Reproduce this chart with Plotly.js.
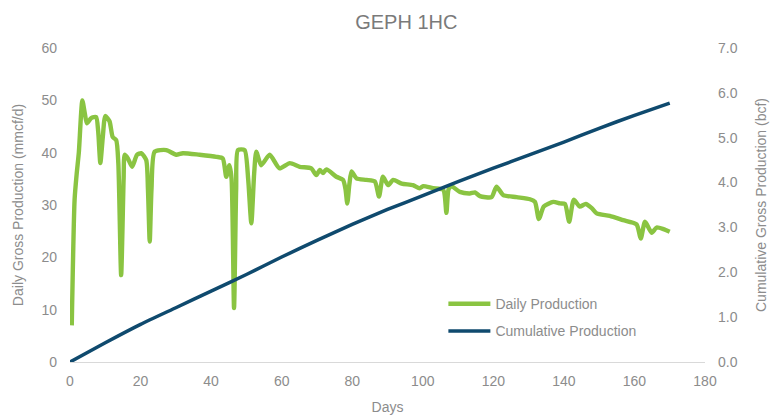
<!DOCTYPE html>
<html>
<head>
<meta charset="utf-8">
<script src="https://cdn.plot.ly/plotly-3.0.1.min.js"></script>
<style>html,body{margin:0;padding:0;background:#fff;}#chart{width:774px;height:417px;}</style>
</head>
<body>
<div id="chart"></div>
<script>
// Daily production (mmcf/d)
var dailyDays = [0.5,1.3,1.9,2.5,3.5,4.2,4.8,6,7.4,8,8.6,9.3,10,11.2,12.1,13.1,13.7,14.5,15.2,15.5,16.4,17.6,19,20.2,21.6,22.1,22.6,23.1,24,27.3,30.1,32,36.7,41.5,43.3,44.3,45.2,45.8,46.5,47.1,47.6,49.5,50.5,51.4,52.2,52.8,54.2,56.6,59.4,62.3,65.1,68.4,69.8,70.8,71.7,72.7,75.5,77.4,78.1,78.6,79.2,79.8,81.2,84,86.4,87.6,88.7,90.2,91.6,94,97.2,99.1,100.1,102.9,105.8,106.7,107.3,108.1,110.5,113.3,114.8,116.2,119.5,120.9,122.8,126.6,130.4,131.8,132.9,134.3,137,138.9,140.3,141.5,142.8,144.5,146.2,147.9,149.3,153,156.8,160.6,161.8,163,164.9,166.3,168.2,170];
var dailyValues = [7,31,36,40,50,47.5,45.6,46.6,46.8,44,38,43,47,46,43,42.4,38,16.6,35,39.6,38.9,37.3,39.6,39.9,38.6,33,23,33,40.2,40.5,39.6,39.9,39.6,39.2,38.9,35.4,37.6,35,10.3,33,40.5,40.5,35,26.5,36,40.2,37.6,39.6,37,38,37.3,37,35.7,36.7,36.1,36.8,35.4,34.8,33,30.3,34,36.4,35.1,34.8,34.5,31.6,35.4,33.8,34.8,34.1,33.8,33.2,33.6,33.2,32.9,28.5,33,33.6,32.5,32.2,32.4,31.7,31.5,33.5,31.9,31.5,31.1,30.6,27.3,29.7,30.6,30.3,30.2,26.8,31,29.7,30.2,29.4,28.4,27.9,27.1,26.3,23.6,26.8,24.7,25.7,25.4,24.9];
// Cumulative production (bcf)
var cumDays = [0,10,20,30,40,50,60,70,80,90,100,110,120,130,140,150,160,170];
var cumValues = [0,0.43,0.84,1.21,1.58,1.95,2.34,2.71,3.07,3.40,3.71,4.02,4.32,4.61,4.90,5.21,5.50,5.77];
var xTicks = [0,20,40,60,80,100,120,140,160,180];
var yLeftTicks = [0,10,20,30,40,50,60];
var yRightTicks = [0,1,2,3,4,5,6,7];

var gray = '#8c8c8c';
var traces = [
  {x: dailyDays, y: dailyValues, type: 'scatter', mode: 'lines', name: 'Daily Production', legendgroup: 'a',
   line: {color: '#8ac442', width: 4.4, shape: 'spline', smoothing: 0.6}, yaxis: 'y'},
  {x: cumDays, y: cumValues, type: 'scatter', mode: 'lines', name: 'Cumulative Production', legendgroup: 'b',
   line: {color: '#0f4a6e', width: 3.5, shape: 'spline', smoothing: 0.5}, yaxis: 'y2'}
];
var layout = {
  width: 774, height: 417,
  margin: {l: 70, r: 69, t: 48, b: 55},
  paper_bgcolor: '#fff', plot_bgcolor: '#fff',
  font: {family: 'Liberation Sans, Arial, sans-serif', color: gray, size: 14},
  title: {text: 'GEPH 1HC', font: {size: 20, color: '#7a7a7a'}, x: 0.525, xanchor: 'center', y: 0.948, yanchor: 'middle'},
  showlegend: true,
  legend: {x: 0.588, xanchor: 'left', y: 0.235, yanchor: 'top', bgcolor: 'rgba(0,0,0,0)',
           font: {size: 14, color: gray}, tracegroupgap: 6, itemwidth: 42},
  xaxis: {range: [0, 180], tickvals: xTicks, ticktext: xTicks.map(String), showgrid: false, zeroline: false,
          showline: true, linecolor: '#d9d9d9', linewidth: 1, ticks: '', ticklabelstandoff: 6,
          tickfont: {size: 14, color: gray}, title: {text: 'Days', font: {size: 14, color: gray}, standoff: 14}},
  yaxis: {range: [0, 60], tickvals: yLeftTicks, ticktext: yLeftTicks.map(String), showgrid: false, zeroline: false,
          showline: false, ticks: '', ticklabelstandoff: 12,
          tickfont: {size: 14, color: gray}, title: {text: 'Daily Gross Production (mmcf/d)', font: {size: 14, color: gray}, standoff: 14}},
  yaxis2: {range: [0, 7], overlaying: 'y', side: 'right', tickvals: yRightTicks, ticktext: yRightTicks.map(function(v){return v.toFixed(1);}),
           showgrid: false, zeroline: false, showline: false, ticks: '', ticklabelstandoff: 12,
           tickfont: {size: 14, color: gray}, title: {text: 'Cumulative Gross Production (bcf)', font: {size: 14, color: gray}, standoff: 19}}
};
Plotly.newPlot('chart', traces, layout, {displayModeBar: false, staticPlot: true});
</script>
</body>
</html>
